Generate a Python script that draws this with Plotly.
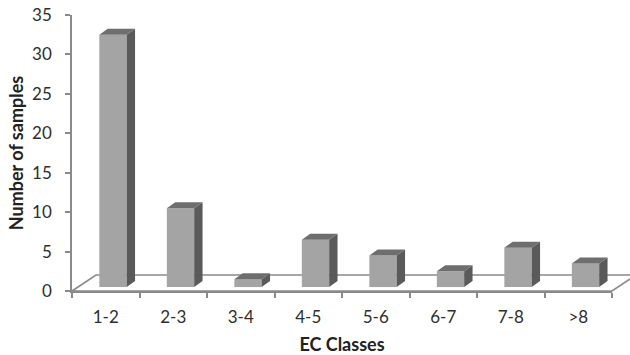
import plotly.graph_objects as go

# EC class bins and sample counts
classes = ["1-2", "2-3", "3-4", "4-5", "5-6", "6-7", "7-8", ">8"]
counts = [32, 10, 1, 6, 4, 2, 5, 3]

# pseudo-3D column geometry (category units / value units)
BAR_OFFSET = -0.095   # front face left edge relative to category centre
BAR_WIDTH = 0.405
DEPTH_X = 0.124       # receding depth, horizontal
DEPTH_Y = 0.76        # receding depth, vertical
LIFT = 0.5            # columns stand part-way back on the floor

FRONT = "#a4a4a4"
SIDE = "#5a5a5a"
TOP = "#6e6e6e"
AXIS = "#8a8a8a"
FONT = "Lato, Open Sans, sans-serif"

fig = go.Figure()

fig.add_trace(go.Bar(
    x=classes,
    y=counts,
    base=LIFT,
    offset=BAR_OFFSET,
    width=BAR_WIDTH,
    marker=dict(color=FRONT, line=dict(width=0)),
    hoverinfo="x+y",
))

shapes = []

# floor of the 3D plot
shapes.append(dict(
    type="path", xref="paper", yref="paper", layer="below",
    path="M 0,0 L 0.0444,0.058 L 1.0444,0.058 L 1,0 Z",
    fillcolor="white", line=dict(color=AXIS, width=1.6),
))

# side and top faces of each column, derived from the counts
for i, v in enumerate(counts):
    x0 = i + BAR_OFFSET
    x1 = x0 + BAR_WIDTH
    xb = x1 + DEPTH_X
    yb = LIFT
    yt = LIFT + v
    shapes.append(dict(
        type="path", xref="x", yref="y", layer="above",
        path=f"M {x1},{yb} L {xb},{yb + DEPTH_Y} L {xb},{yt + DEPTH_Y} L {x1},{yt} Z",
        fillcolor=SIDE, line=dict(width=0),
    ))
    shapes.append(dict(
        type="path", xref="x", yref="y", layer="above",
        path=f"M {x0},{yt} L {x1},{yt} L {xb},{yt + DEPTH_Y} L {x0 + DEPTH_X},{yt + DEPTH_Y} Z",
        fillcolor=TOP, line=dict(width=0),
    ))

fig.update_layout(
    width=630, height=355,
    margin=dict(l=72, r=18, t=15, b=64, autoexpand=False),
    paper_bgcolor="white",
    plot_bgcolor="rgba(0,0,0,0)",
    showlegend=False,
    shapes=shapes,
    font=dict(family=FONT, color="#2e2e2e"),
    xaxis=dict(
        type="category",
        automargin=False,
        range=[-0.5, len(classes) - 0.5],
        tickson="boundaries",
        ticks="outside", ticklen=5, tickwidth=1.6, tickcolor=AXIS,
        showline=True, linecolor=AXIS, linewidth=1.6,
        showgrid=False, zeroline=False,
        tickfont=dict(size=17, color="#2e2e2e"),
        ticklabelstandoff=10,
        title=dict(text="<b>EC Classes</b>", font=dict(size=18, color="#222222"), standoff=15),
    ),
    yaxis=dict(
        automargin=False,
        range=[0, 35],
        tickvals=[0, 5, 10, 15, 20, 25, 30, 35],
        ticks="outside", ticklen=5, tickwidth=1.6, tickcolor=AXIS,
        showline=True, linecolor=AXIS, linewidth=1.6,
        showgrid=False, zeroline=False,
        tickfont=dict(size=17, color="#2e2e2e"),
        ticklabelstandoff=10,
        title=dict(text="<b>Number of samples</b>", font=dict(size=18, color="#222222"), standoff=4),
    ),
)

fig.write_html("out.html")
